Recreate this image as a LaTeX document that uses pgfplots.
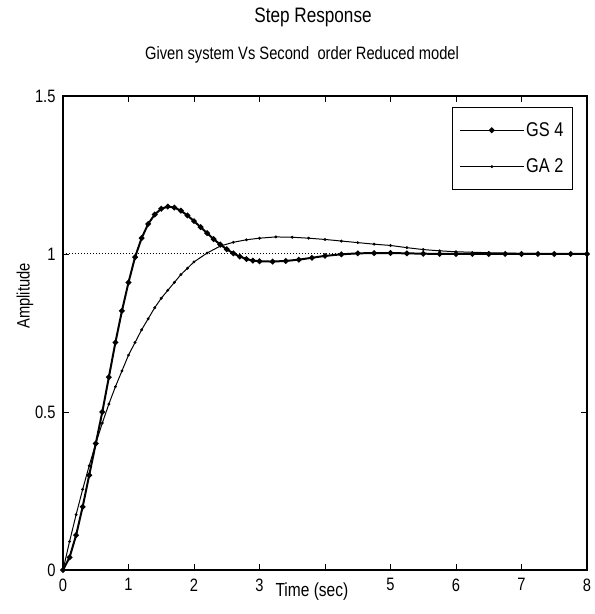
\documentclass[border=0pt]{standalone}
\usepackage{fontspec}
\setmainfont[FakeStretch=0.82]{Liberation Sans}
\usepackage{pgfplots}
\pgfplotsset{compat=1.18}
\begin{document}
\begin{tikzpicture}[x=1bp,y=1bp]
\path[use as bounding box] (0,0) rectangle (595,614);
\begin{axis}[
  at={(63bp,44bp)}, anchor=south west,
  width=524bp, height=474bp, scale only axis,
  xmin=0, xmax=8, ymin=0, ymax=1.5,
  xtick={0,1,2,3,4,5,6,7,8}, xticklabels={0,1,2,3,,5,6,7,8},
  ytick={0,0.5,1,1.5}, yticklabels={0,0.5,1,1.5},
  tick align=inside, major tick length=6bp,
  /pgf/number format/assume math mode=true,
  tick label style={font=\fontsize{18}{21}\selectfont},
  xticklabel style={yshift=-5bp},
  yticklabel style={xshift=-4bp},
  axis line style={line width=1.1pt},
  every tick/.style={black, line width=0.8pt},
  xlabel={Time (sec)},
  xlabel style={at={(axis description cs:0.475,0)}, anchor=center, yshift=-22bp, font=\fontsize{19}{22}\selectfont},
  ylabel={Amplitude},
  ylabel style={at={(axis description cs:-0.0725,0.578)}, anchor=center, font=\fontsize{18}{21}\selectfont},
  legend style={at={(rel axis cs:1,1)}, xshift=-14bp, yshift=-11bp, anchor=north east,
    draw=black, line width=1.1pt, font=\fontsize{20}{23}\selectfont, row sep=17bp,
    inner xsep=7bp, inner ysep=13bp},
  legend cell align=left,
  legend image code/.code={
    \draw[#1, mark=none, line width=0.9pt] (0bp,0bp) -- (64bp,0bp);
    \draw[#1, only marks] plot coordinates {(32bp,0bp)};},
]
\addplot[black, line width=2pt, mark=*, mark size=1.7pt, mark options={solid}] coordinates {
(0,0)(0.1,0.04)(0.2,0.11)(0.3,0.2)(0.4,0.3)(0.5,0.4)(0.6,0.5)(0.7,0.61)(0.8,0.72)(0.9,0.82)
(1.0,0.91)(1.1,0.99)(1.2,1.05)(1.3,1.095)(1.4,1.125)(1.5,1.143)(1.6,1.15)(1.7,1.147)(1.8,1.137)
(1.9,1.122)(2.0,1.104)(2.1,1.085)(2.2,1.066)(2.3,1.047)(2.4,1.03)(2.5,1.015)(2.6,1.002)(2.7,0.992)
(2.8,0.984)(2.9,0.979)(3.0,0.977)(3.2,0.976)(3.4,0.978)(3.6,0.982)(3.8,0.988)(4.0,0.994)
(4.25,0.999)(4.5,1.002)(4.75,1.003)(5.0,1.003)(5.25,1.002)(5.5,1.001)(5.75,1.0)(6,1.0)
(6.25,1.0)(6.5,1.0)(6.75,1.0)(7,1.0)(7.25,1.0)(7.5,1.0)(7.75,1.0)(8,1.0)};
\addlegendentry{GS 4}
\addplot[black, line width=1pt, mark=*, mark size=0.9pt, mark options={solid}] coordinates {
(0,0)(0.1,0.09)(0.2,0.175)(0.3,0.255)(0.4,0.33)(0.5,0.40)(0.6,0.465)(0.7,0.525)(0.8,0.58)
(0.9,0.63)(1.0,0.68)(1.1,0.72)(1.2,0.76)(1.3,0.795)(1.4,0.83)(1.5,0.86)(1.6,0.885)(1.7,0.91)
(1.8,0.935)(1.9,0.955)(2.0,0.975)(2.2,1.003)(2.4,1.025)(2.6,1.037)(2.8,1.045)(3.0,1.05)
(3.25,1.054)(3.5,1.053)(3.75,1.05)(4.0,1.046)(4.25,1.041)(4.5,1.036)(4.75,1.031)(5.0,1.027)
(5.25,1.02)(5.5,1.014)(5.75,1.01)(6.0,1.007)(6.5,1.004)(7,1.002)(7.5,1.001)(8,1.0)};
\addlegendentry{GA 2}
\addplot[black, dotted, line width=1pt, forget plot] coordinates {(0,1)(8,1)};
\end{axis}
\node[font=\fontsize{21}{25}\selectfont] at (313,597) {Step Response};
\node[font=\fontsize{18}{22}\selectfont] at (302,559) {Given system Vs Second\ \ order Reduced model};
\end{tikzpicture}
\end{document}
